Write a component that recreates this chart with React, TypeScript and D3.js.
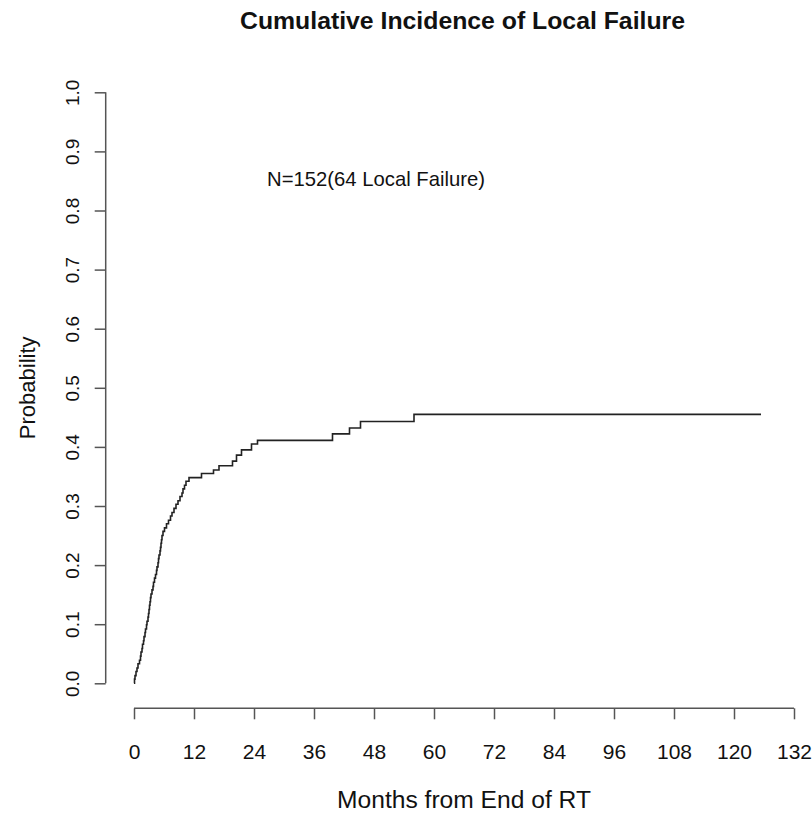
import { useEffect, useRef } from "react";
import * as d3 from "d3";

// step points of the cumulative incidence curve: months and probability
const months = [
  0, 0.1, 0.2, 0.4, 0.6, 0.8, 1.1, 1.3, 1.4, 1.6, 1.7, 1.9, 2.0, 2.2, 2.3, 2.5,
  2.6, 2.8, 2.9, 3.0, 3.1, 3.2, 3.3, 3.4, 3.6, 3.8, 3.9, 4.1, 4.3, 4.5, 4.6,
  4.8, 4.9, 5.0, 5.2, 5.3, 5.4, 5.5, 5.6, 5.8, 6.1, 6.5, 6.9, 7.3, 7.6, 8.0,
  8.4, 8.8, 9.2, 9.6, 9.8, 10.1, 10.4, 11.0, 13.5, 15.9, 17.0, 19.7, 20.5,
  21.5, 23.5, 24.7, 39.7, 43.1, 45.3, 56.0, 125.4,
];
const probs = [
  0, 0.007, 0.013, 0.02, 0.026, 0.033, 0.039, 0.046, 0.053, 0.059, 0.066,
  0.072, 0.079, 0.086, 0.092, 0.099, 0.105, 0.112, 0.118, 0.125, 0.132, 0.138,
  0.145, 0.151, 0.158, 0.164, 0.171, 0.178, 0.184, 0.191, 0.197, 0.204, 0.211,
  0.217, 0.224, 0.23, 0.237, 0.243, 0.25, 0.257, 0.263, 0.27, 0.276, 0.283,
  0.289, 0.296, 0.303, 0.309, 0.316, 0.322, 0.329, 0.335, 0.342, 0.348, 0.355,
  0.361, 0.368, 0.376, 0.386, 0.395, 0.405, 0.411, 0.422, 0.432, 0.443, 0.455,
  0.455,
];

const xTicks = [0, 12, 24, 36, 48, 60, 72, 84, 96, 108, 120, 132];
const yTicks = [0, 0.1, 0.2, 0.3, 0.4, 0.5, 0.6, 0.7, 0.8, 0.9, 1.0];

const title = "Cumulative Incidence of Local Failure";
const note = "N=152(64 Local Failure)";
const xLabel = "Months from End of RT";
const yLabel = "Probability";

export default function App() {
  const svgRef = useRef<SVGSVGElement>(null);

  useEffect(() => {
    const width = 812;
    const height = 814;
    const font = "'Liberation Sans', Arial, sans-serif";
    const axisColor = "#555";

    const svg = d3.select(svgRef.current);
    svg.selectAll("*").remove();
    svg.attr("width", width).attr("height", height).style("background", "#fff");

    const x = d3.scaleLinear().domain([0, 132]).range([134, 794]);
    const y = d3.scaleLinear().domain([0, 1]).range([683.3, 92.3]);

    // y axis (R style, detached)
    const yAxis = d3
      .axisLeft(y)
      .tickValues(yTicks)
      .tickSize(11)
      .tickPadding(0)
      .tickFormat((d) => d3.format(".1f")(d as number));
    const gy = svg.append("g").attr("transform", "translate(105.7,0)").call(yAxis);
    gy.select(".domain").remove();
    gy.append("line")
      .attr("x1", 0)
      .attr("x2", 0)
      .attr("y1", y(0))
      .attr("y2", y(1))
      .attr("stroke", axisColor)
      .attr("stroke-width", 1.5);
    gy.selectAll(".tick line").attr("stroke", axisColor).attr("stroke-width", 1.5);
    gy.selectAll(".tick text")
      .attr("x", 0)
      .attr("dy", null)
      .attr("text-anchor", "middle")
      .attr("transform", "translate(-33,0) rotate(-90)")
      .attr("dominant-baseline", "central")
      .style("font-family", font)
      .style("font-size", "19px")
      .attr("fill", "#111");

    // x axis
    const xAxis = d3
      .axisBottom(x)
      .tickValues(xTicks)
      .tickSize(11)
      .tickPadding(0)
      .tickFormat((d) => String(d));
    const gx = svg.append("g").attr("transform", "translate(0,708.3)").call(xAxis);
    gx.select(".domain").remove();
    gx.append("line")
      .attr("x1", x(0))
      .attr("x2", x(132))
      .attr("stroke", axisColor)
      .attr("stroke-width", 1.5);
    gx.selectAll(".tick line").attr("stroke", axisColor).attr("stroke-width", 1.5);
    gx.selectAll(".tick text")
      .attr("y", 43)
      .attr("dy", null)
      .attr("dominant-baseline", "central")
      .style("font-family", font)
      .style("font-size", "21px")
      .attr("fill", "#111");

    // curve
    const pts: [number, number][] = months.map((m, i) => [m, probs[i]]);
    const line = d3
      .line<[number, number]>()
      .x((d) => x(d[0]))
      .y((d) => y(d[1]))
      .curve(d3.curveStepAfter);
    svg
      .append("path")
      .datum(pts)
      .attr("d", line)
      .attr("fill", "none")
      .attr("stroke", "#222")
      .attr("stroke-width", 1.6);

    // texts
    svg
      .append("text")
      .attr("x", 240)
      .attr("y", 28.5)
      .attr("textLength", 445)
      .attr("lengthAdjust", "spacingAndGlyphs")
      .style("font-family", font)
      .style("font-weight", "bold")
      .style("font-size", "23px")
      .attr("fill", "#111")
      .text(title);

    svg
      .append("text")
      .attr("x", 267)
      .attr("y", 186)
      .attr("textLength", 218)
      .attr("lengthAdjust", "spacingAndGlyphs")
      .style("font-family", font)
      .style("font-size", "21px")
      .attr("fill", "#111")
      .text(note);

    svg
      .append("text")
      .attr("x", 337)
      .attr("y", 808)
      .attr("textLength", 254)
      .attr("lengthAdjust", "spacingAndGlyphs")
      .style("font-family", font)
      .style("font-size", "23px")
      .attr("fill", "#111")
      .text(xLabel);

    svg
      .append("text")
      .attr("transform", `translate(27,${(y(0) + y(1)) / 2}) rotate(-90)`)
      .attr("text-anchor", "middle")
      .attr("dominant-baseline", "central")
      .style("font-family", font)
      .style("font-size", "22px")
      .attr("fill", "#111")
      .text(yLabel);
  }, []);

  return (
    <div style={{ position: "absolute", left: 0, top: 0 }}>
      <svg ref={svgRef}></svg>
    </div>
  );
}
